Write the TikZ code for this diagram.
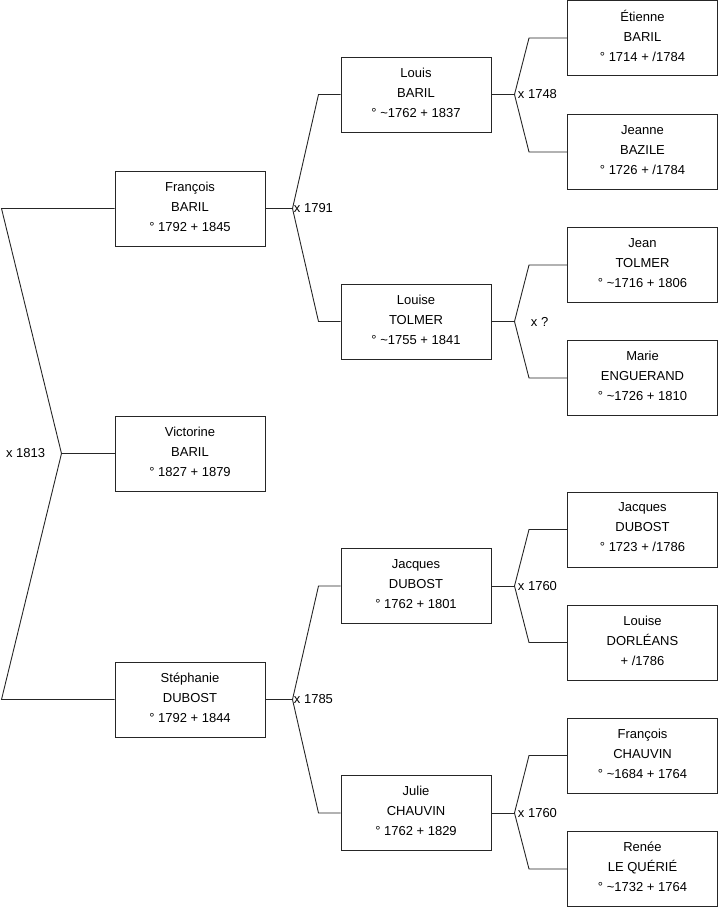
\documentclass[tikz,border=0pt]{standalone}
\usepackage{fontspec}
\setmainfont{Liberation Sans}
\usetikzlibrary{calc}
% child, father, mother, label, fork distance, bend distance, label shift
\newcommand{\couple}[7]{%
  \draw[link] (#1.east) -- ++(#5,0) coordinate (#1m)
    node[right,inner sep=1pt,xshift=#7]{#4};
  \draw[link] (#2.west) -- ++(-#6,0) -- (#1m) -- ($(#3.west)+(-#6,0)$) -- (#3.west);}

\begin{document}
\begin{tikzpicture}[x=1pt,y=-1pt,font=\fontsize{13}{20}\selectfont,
  person/.style={draw=black!85,line width=1pt,minimum width=150,minimum height=75,
    align=center,inner sep=0pt,text depth=4pt},
  link/.style={draw=black!85,line width=0.9pt}]
\useasboundingbox (0,0) rectangle (719,908);
% generation 1 and 2
\node[person] (vic) at (190,453.5) {Victorine\\BARIL\\° 1827 + 1879};
\node[person] (fra) at (190,208.5) {François\\BARIL\\° 1792 + 1845};
\node[person] (ste) at (190,699.5) {Stéphanie\\DUBOST\\° 1792 + 1844};
% generation 3
\node[person] (lou) at (416,94.5) {Louis\\BARIL\\° \textasciitilde1762 + 1837};
\node[person] (lse) at (416,321.5) {Louise\\TOLMER\\° \textasciitilde1755 + 1841};
\node[person] (jac) at (416,586) {Jacques\\DUBOST\\° 1762 + 1801};
\node[person] (jul) at (416,813) {Julie\\CHAUVIN\\° 1762 + 1829};
% generation 4
\node[person] (eti) at (642.5,38) {Étienne\\BARIL\\° 1714 + /1784};
\node[person] (jea) at (642.5,152) {Jeanne\\BAZILE\\° 1726 + /1784};
\node[person] (jtl) at (642.5,265) {Jean\\TOLMER\\° \textasciitilde1716 + 1806};
\node[person] (mar) at (642.5,378) {Marie\\ENGUERAND\\° \textasciitilde1726 + 1810};
\node[person] (jdb) at (642.5,529.5) {Jacques\\DUBOST\\° 1723 + /1786};
\node[person] (ldo) at (642.5,642.5) {Louise\\DORLÉANS\\+ /1786};
\node[person] (fch) at (642.5,755.5) {François\\CHAUVIN\\° \textasciitilde1684 + 1764};
\node[person] (ren) at (642.5,869) {Renée\\LE QUÉRIÉ\\° \textasciitilde1732 + 1764};
% marriage of the parents, drawn on the left
\draw[link] (vic.west) -- ++(-53,0) coordinate (vicm)
  node[left,inner sep=0pt,xshift=-16]{x 1813};
\draw[link] (fra.west) -- ++(-113,0) -- (vicm) -- ($(ste.west)+(-113,0)$) -- (ste.west);
% the other couples
\couple{fra}{lou}{lse}{x 1791}{27}{22}{0pt}
\couple{ste}{jac}{jul}{x 1785}{27}{22}{0pt}
\couple{lou}{eti}{jea}{x 1748}{23}{38}{2pt}
\couple{lse}{jtl}{mar}{x ?}{23}{38}{15pt}
\couple{jac}{jdb}{ldo}{x 1760}{23}{38}{2pt}
\couple{jul}{fch}{ren}{x 1760}{23}{38}{2pt}
\end{tikzpicture}
\end{document}
